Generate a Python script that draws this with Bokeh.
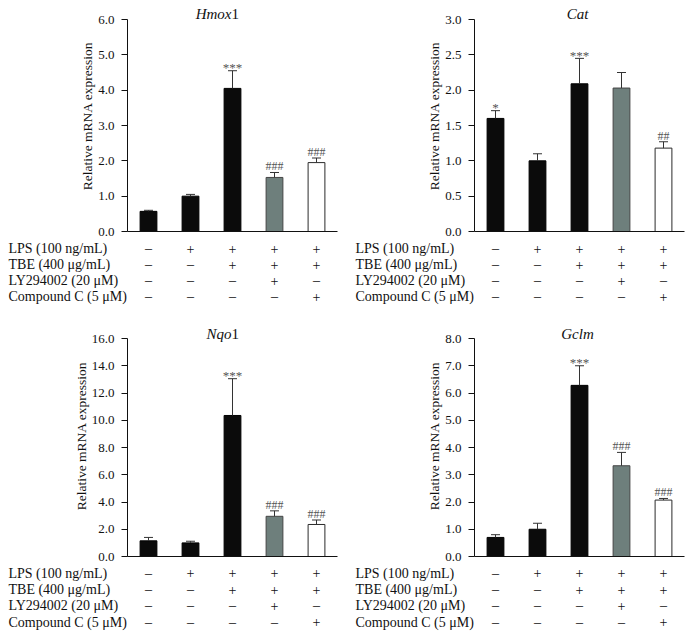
import re
from bokeh.plotting import figure
from bokeh.layouts import column, row
from bokeh.models import (ColumnDataSource, Whisker, TeeHead, Range1d, FixedTicker,
                          NumeralTickFormatter, Label)
from bokeh.core.properties import value
from bokeh.embed import file_html
from bokeh.resources import INLINE

# ---------------- data ----------------
groups = [1, 2, 3, 4, 5]

hmox1_mean = [0.57, 1.00, 4.05, 1.53, 1.95]
hmox1_err_top = [0.60, 1.05, 4.55, 1.67, 2.08]
hmox1_marks = ["", "", "***", "###", "###"]

cat_mean = [1.60, 1.00, 2.09, 2.03, 1.18]
cat_err_top = [1.71, 1.10, 2.45, 2.25, 1.27]
cat_marks = ["*", "", "***", "", "##"]

nqo1_mean = [1.15, 1.00, 10.35, 2.95, 2.35]
nqo1_err_top = [1.40, 1.12, 13.05, 3.35, 2.68]
nqo1_marks = ["", "", "***", "###", "###"]

gclm_mean = [0.70, 1.00, 6.28, 3.33, 2.07]
gclm_err_top = [0.80, 1.22, 7.00, 3.82, 2.13]
gclm_marks = ["", "", "***", "###", "###"]

treatments = ["LPS (100 ng/mL)", "TBE (400 μg/mL)", "LY294002 (20 μM)", "Compound C (5 μM)"]
lps_signs = ["–", "+", "+", "+", "+"]
tbe_signs = ["–", "–", "+", "+", "+"]
ly_signs = ["–", "–", "–", "+", "–"]
cc_signs = ["–", "–", "–", "–", "+"]

# ---------------- style ----------------
SERIF = "Liberation Serif"
FILLS = ["#0b0b0b", "#0b0b0b", "#0b0b0b", "#6e7f7c", "#ffffff"]
EDGES = ["#000000", "#000000", "#000000", "#454545", "#2a2a2a"]
PX_PER_GROUP = 42
FRAME_W = 5 * PX_PER_GROUP


def add_title(p, title, y):
    m = re.match(r"^(.*?)(\d*)$", title)
    ital, upr = m.group(1), m.group(2)
    common = dict(y=y, text_baseline="middle", text_font=SERIF, text_font_size="15px",
                  text_color="#111111")
    if upr:
        p.add_layout(Label(x=3, text=ital, text_align="right", x_offset=-1,
                           text_font_style="italic", **common))
        p.add_layout(Label(x=3, text=upr, text_align="left", x_offset=-1,
                           text_font_style="normal", **common))
    else:
        p.add_layout(Label(x=3, text=ital, text_align="center", x_offset=-2,
                           text_font_style="italic", **common))


def chart(title, mean, err, marks, ymax, step, frame_h, axis_px, title_px,
          left_border, right_border):
    y_end = ymax * frame_h / axis_px
    per_px = ymax / axis_px
    p = figure(frame_width=FRAME_W, frame_height=frame_h,
               x_range=Range1d(0.5, 5.5), y_range=Range1d(0, y_end),
               output_backend="svg", toolbar_location=None,
               min_border_left=left_border, min_border_right=right_border,
               min_border_top=0, min_border_bottom=6)
    p.outline_line_color = None
    p.grid.visible = False
    p.background_fill_color = "white"
    p.border_fill_color = "white"

    src = ColumnDataSource(dict(x=groups, top=mean, err=err, fill=FILLS, edge=EDGES))
    p.vbar(x="x", top="top", width=0.4, bottom=0, source=src,
           fill_color="fill", line_color="edge", line_width=1)
    wh = Whisker(source=src, base="x", lower="top", upper="err", dimension="height",
                 line_color="#333333", line_width=1,
                 upper_head=TeeHead(size=9, line_color="#333333", line_width=1),
                 lower_head=None, level="glyph")
    p.add_layout(wh)

    star_x, star_y, star_t, hash_x, hash_y, hash_t = [], [], [], [], [], []
    for xi, ei, mi in zip(groups, err, marks):
        if mi.startswith("*"):
            star_x.append(xi); star_y.append(ei); star_t.append(mi)
        elif mi:
            hash_x.append(xi); hash_y.append(ei); hash_t.append(mi)
    p.text(x=star_x, y=star_y, text=star_t, text_align="center", text_baseline="middle",
           y_offset=-3, text_font=value(SERIF), text_font_size="13px", text_color="#555555")
    p.text(x=hash_x, y=hash_y, text=hash_t, text_align="center", text_baseline="alphabetic",
           y_offset=-6, text_font=value(SERIF), text_font_size="12px", text_color="#555555")

    add_title(p, title, y_end - title_px * per_px)

    ya = p.yaxis[0]
    ya.ticker = FixedTicker(ticks=[i * step for i in range(int(round(ymax / step)) + 1)])
    ya.formatter = NumeralTickFormatter(format="0.0")
    ya.bounds = (0, ymax)
    ya.axis_label = "Relative mRNA expression"
    ya.axis_label_text_font = SERIF
    ya.axis_label_text_font_size = "13.5px"
    ya.axis_label_text_font_style = "normal"
    ya.axis_label_text_color = "#111111"
    ya.axis_label_standoff = 0
    ya.major_label_text_font = SERIF
    ya.major_label_text_font_size = "13px"
    ya.major_label_text_color = "#111111"
    ya.major_label_standoff = 7
    ya.major_tick_out = 6
    ya.major_tick_in = 0
    ya.minor_tick_out = 0
    ya.minor_tick_in = 0
    ya.axis_line_color = "#111111"
    ya.major_tick_line_color = "#111111"

    xa = p.xaxis[0]
    xa.ticker = FixedTicker(ticks=[])
    xa.major_tick_out = 0
    xa.major_tick_in = 0
    xa.minor_tick_out = 0
    xa.minor_tick_in = 0
    xa.major_label_standoff = 0
    xa.axis_line_color = "#111111"
    return p


def table(panel_w, left_border, height, first_row_px, pitch_px, label_offset):
    x0 = 0.5 - left_border / PX_PER_GROUP
    x1 = x0 + panel_w / PX_PER_GROUP
    y_top = 1 - first_row_px / pitch_px
    y_bot = y_top + height / pitch_px
    t = figure(width=panel_w, height=height, x_range=Range1d(x0, x1),
               y_range=Range1d(y_bot, y_top), output_backend="svg",
               toolbar_location=None, min_border=0)
    t.axis.visible = False
    t.grid.visible = False
    t.outline_line_color = None
    rows_idx = [1, 2, 3, 4]
    t.text(x=[x0] * 4, y=rows_idx, text=treatments, x_offset=label_offset,
           text_align="left", text_baseline="middle", text_font=value(SERIF),
           text_font_size="14px", text_color="#111111")
    sx, sy, st = [], [], []
    for ri, signs in zip(rows_idx, [lps_signs, tbe_signs, ly_signs, cc_signs]):
        for gi, s in zip(groups, signs):
            sx.append(gi); sy.append(ri); st.append(s)
    t.text(x=sx, y=sy, text=st, text_align="center", text_baseline="middle",
           text_font=value(SERIF), text_font_size="14px", text_color="#111111")
    return t


LW, RW = 353, 333
LB, RB = 127, 121

c1 = chart("Hmox1", hmox1_mean, hmox1_err_top, hmox1_marks, 6.0, 1.0, 231, 212, 13, LB, LW - LB - FRAME_W)
c2 = chart("Cat", cat_mean, cat_err_top, cat_marks, 3.0, 0.5, 231, 212, 13, RB, RW - RB - FRAME_W)
t1 = table(LW, LB, 78, 11, 16.1, 8)
t2 = table(RW, RB, 78, 11, 16.1, 2)
c3 = chart("Nqo1", nqo1_mean, nqo1_err_top, nqo1_marks, 16.0, 2.0, 241, 218, 18, LB, LW - LB - FRAME_W)
c4 = chart("Gclm", gclm_mean, gclm_err_top, gclm_marks, 8.0, 1.0, 241, 218, 18, RB, RW - RB - FRAME_W)
t3 = table(LW, LB, 72, 10.7, 16.3, 8)
t4 = table(RW, RB, 72, 10.7, 16.3, 2)

layout = column(row(c1, c2), row(t1, t2), row(c3, c4), row(t3, t4), spacing=0)

with open("out.html", "w") as f:
    f.write(file_html(layout, INLINE))
